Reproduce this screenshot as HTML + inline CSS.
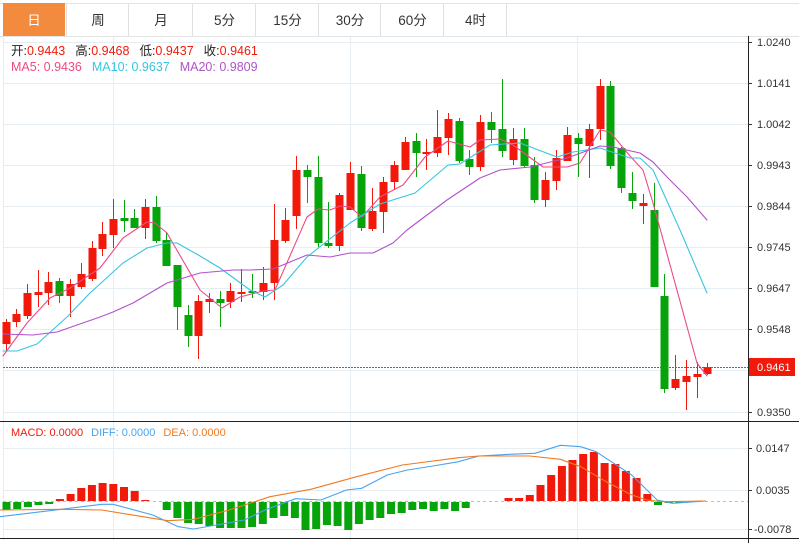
<!DOCTYPE html>
<html><head><meta charset="utf-8">
<style>
html,body{margin:0;padding:0;background:#fff;}
body{width:799px;height:543px;overflow:hidden;font-family:"Liberation Sans","Noto Sans CJK SC",sans-serif;}
svg{display:block}
</style></head><body>
<svg id="s" width="799" height="543" xmlns="http://www.w3.org/2000/svg" font-family="Liberation Sans, Noto Sans CJK SC, sans-serif"></svg>
<script>
const S=document.getElementById('s');let h='';
const tabs=[['日',0,66],['周',66,128],['月',128,192],['5分',192,255],['15分',255,318],['30分',318,380],['60分',380,443],['4时',443,506]];
h+='<rect x="0" y="0" width="799" height="36" fill="#fff"/>';
h+='<line x1="0" y1="36.5" x2="799" y2="36.5" stroke="#e3e3e3"/>';
h+='<line x1="0" y1="3.5" x2="799" y2="3.5" stroke="#e3e3e3"/>';
tabs.forEach((t,i)=>{
 if(i==0)h+=`<rect x="3" y="3" width="62" height="33" fill="#f28b3e"/>`;
 h+=`<line x1="${t[2]+0.5}" y1="3" x2="${t[2]+0.5}" y2="36" stroke="#e0e0e0"/>`;
 h+=`<text x="${(t[1]+t[2])/2+1}" y="25" font-size="13.5" text-anchor="middle" fill="${i==0?'#fff':'#333'}">${t[0]}</text>`;
});
const ly=[42,83,124,165,206,247,288,329,370,412];
const lab=['1.0240','1.0141','1.0042','0.9943','0.9844','0.9745','0.9647','0.9548','0.9449','0.9350'];
ly.forEach((y,i)=>{h+=`<line x1="3" y1="${y+.5}" x2="748" y2="${y+.5}" stroke="#e6eef4"/>`;
 h+=`<line x1="748" y1="${y+.5}" x2="752" y2="${y+.5}" stroke="#333"/>`;
 if(i!=8)h+=`<text x="757" y="${y+4}" font-size="11" fill="#333">${lab[i]}</text>`;});
[113,350,577].forEach(x=>{h+=`<line x1="${x+.5}" y1="37" x2="${x+.5}" y2="540" stroke="#e6eef4"/>`;});
h+='<line x1="3.5" y1="37" x2="3.5" y2="540" stroke="#e6eef4"/>';
[448,490,529].forEach(y=>{h+=`<line x1="3" y1="${y+.5}" x2="748" y2="${y+.5}" stroke="#e6eef4"/><line x1="748" y1="${y+.5}" x2="752" y2="${y+.5}" stroke="#333"/>`;});
h+='<text x="756" y="452" font-size="11" fill="#333">0.0147</text><text x="756" y="494" font-size="11" fill="#333">0.0035</text><text x="754" y="533" font-size="11" fill="#333">-0.0078</text>';
h+='<line x1="0" y1="421.5" x2="799" y2="421.5" stroke="#222"/>';
h+='<line x1="0" y1="538.5" x2="799" y2="538.5" stroke="#222"/>';
h+='<line x1="748.5" y1="36" x2="748.5" y2="543" stroke="#222"/>';
const C=[[6,344,322,319,352,1],[16,322,314,309,327,1],[27,316,293,284,319,1],[38,295,292,270,307,1],[48,293,282,272,305,1],[59,281,296,278,303,0],[70,296,284,279,317,1],[81,287,274,263,289,1],[92,279,248,241,281,1],[102,249,234,222,256,1],[113,235,219,199,248,1],[124,218,221,200,232,0],[134,218,228,209,228,0],[145,228,207,199,239,1],[156,207,241,196,243,0],[166,240,266,232,266,0],[177,265,307,265,330,0],[188,315,336,305,347,0],[198,336,301,295,359,1],[209,302,299,293,313,1],[220,299,303,291,327,0],[230,302,291,283,308,1],[241,293,292,269,302,1],[252,291,292,274,298,0],[263,292,283,267,300,1],[274,283,240,204,300,1],[285,241,220,208,243,1],[296,216,170,156,229,1],[307,170,177,165,203,0],[318,177,243,156,247,0],[328,243,246,202,248,0],[339,246,195,193,251,1],[350,210,173,162,210,1],[361,174,228,166,231,0],[372,229,211,188,231,1],[383,212,182,177,233,1],[394,182,165,161,190,1],[405,170,142,137,170,1],[416,141,153,133,177,0],[426,153,152,139,170,1],[437,153,137,110,157,1],[448,138,119,113,155,1],[459,121,161,118,163,0],[469,159,167,150,175,0],[480,167,122,115,171,1],[491,122,130,112,143,0],[502,129,151,79,157,0],[513,160,139,128,165,1],[524,139,166,128,167,0],[534,165,200,157,203,0],[545,200,180,172,207,1],[556,181,158,150,190,1],[567,161,135,127,161,1],[578,138,144,133,177,0],[589,146,129,124,178,1],[600,129,86,79,140,1],[610,86,166,81,169,0],[621,148,188,147,193,0],[632,193,201,172,209,0],[643,206,203,194,224,1],[654,210,287,183,287,0],[664,296,389,274,393,0],[675,388,379,355,390,1],[686,382,376,360,410,1],[697,377,374,362,398,1],[707,374,367,363,375,1]];
C.forEach(c=>{const col=c[5]?'#f2190a':'#06a30a';const t=Math.min(c[1],c[2]),b=Math.max(c[1],c[2]);
 h+=`<line x1="${c[0]+.5}" y1="${c[3]}" x2="${c[0]+.5}" y2="${c[4]}" stroke="${col}"/>`;
 h+=`<rect x="${c[0]-3.5}" y="${t}" width="8" height="${Math.max(b-t,2)}" fill="${col}"/>`;});
const pl=(pts,col)=>`<polyline fill="none" stroke="${col}" stroke-width="1.1" stroke-linejoin="round" stroke-linecap="round" points="${pts}"/>`;
h+=pl('3,356 27,323 50,298 70,288 100,268 123,238 147,222 155,223 167,233 200,290 222,308 240,297 263,291 275,290 307,217 318,209 330,210 340,206 350,207 362,217 380,197 403,185 425,157 448,141 470,147 480,140 500,139 513,145 543,167 567,167 580,163 600,130 610,132 630,156 643,170 653,203 697,363 707,376','#ee4a85');
h+=pl('3,351 17,351 37,344 67,317 90,293 123,263 147,248 167,243 177,243 200,256 220,268 250,290 265,297 283,285 307,257 350,223 380,204 415,193 448,165 460,164 490,145 520,143 557,157 573,152 600,148 630,158 640,158 653,170 680,230 707,293','#36c6df');
h+=pl('3,334 33,335 57,332 100,317 113,312 133,303 167,283 200,273 233,270 250,270 273,269 307,255 330,257 350,253 373,253 393,243 407,230 447,200 480,178 500,170 530,167 567,158 600,146 613,147 640,153 653,162 667,177 687,197 707,220','#b052c9');
h+='<line x1="3" y1="367.5" x2="748" y2="367.5" stroke="#ff2a1a" stroke-width="1" stroke-dasharray="2,1"/>';
h+='<rect x="749" y="358" width="46" height="18" fill="#f2190a"/><text x="757" y="371" font-size="11" fill="#fff">0.9461</text>';
h+='<text y="55" font-size="12.5"><tspan x="11" fill="#222">开:</tspan><tspan fill="#f2190a">0.9443</tspan><tspan dx="10" fill="#222">高:</tspan><tspan fill="#f2190a">0.9468</tspan><tspan dx="10" fill="#222">低:</tspan><tspan fill="#f2190a">0.9437</tspan><tspan dx="10" fill="#222">收:</tspan><tspan fill="#f2190a">0.9461</tspan></text>';
h+='<text y="71" font-size="12.5"><tspan x="11" fill="#ee4a85">MA5: 0.9436</tspan><tspan dx="10" fill="#36c6df">MA10: 0.9637</tspan><tspan dx="10" fill="#b052c9">MA20: 0.9809</tspan></text>';
h+='<text y="436" font-size="11"><tspan x="11" fill="#f2190a">MACD: 0.0000</tspan><tspan dx="8" fill="#4aa3ef">DIFF: 0.0000</tspan><tspan dx="8" fill="#f07a22">DEA: 0.0000</tspan></text>';
h+='<line x1="3" y1="501.5" x2="748" y2="501.5" stroke="#9cc6e8" stroke-dasharray="3,3"/>';
const M=[-8,-7,-5,-3,-2,2,7,13,16,18,17,14,10,1,0.5,-8,-16,-21,-22,-24,-26,-26,-26,-25,-22,-16,-14,-16,-28,-27,-23,-24,-28,-22,-18,-16,-12,-11,-8,-7,-9,-7,-9,-6,0,0,0,3,3,6,16,26,35,41,47,49,38,37,30,23,7,-3,-1,-1,0,0];
M.forEach((v,i)=>{const x=6+i*10.68;if(Math.abs(v)<0.6)return;const col=v>0?'#f2190a':'#06a30a';
 h+=`<rect x="${(x-3.5).toFixed(1)}" y="${v>0?501-v:502}" width="8" height="${Math.abs(v)}" fill="${col}"/>`;});
const conv=a=>a.map(p=>(p[0]/1.963).toFixed(1)+','+(420+p[1]/3).toFixed(1)).join(' ');
h+=pl(conv([[0,290],[120,268],[200,253],[222,253],[300,285],[350,320],[380,327],[480,300],[520,270],[580,236],[630,240],[680,210],[710,205],[760,165],[800,150],[850,138],[900,125],[940,108],[1000,103],[1050,100],[1100,76],[1140,80],[1170,95],[1200,125],[1240,165],[1270,210],[1290,240],[1320,250],[1385,243]]),'#4aa3ef');
h+=pl(conv([[0,270],[120,268],[200,270],[300,295],[330,302],[380,298],[450,270],[530,230],[610,208],[700,170],[790,135],[900,113],[940,108],[1040,108],[1100,118],[1140,140],[1190,185],[1240,225],[1270,240],[1300,245],[1385,243]]),'#f07a22');
S.innerHTML=h;
</script>
</body></html>
